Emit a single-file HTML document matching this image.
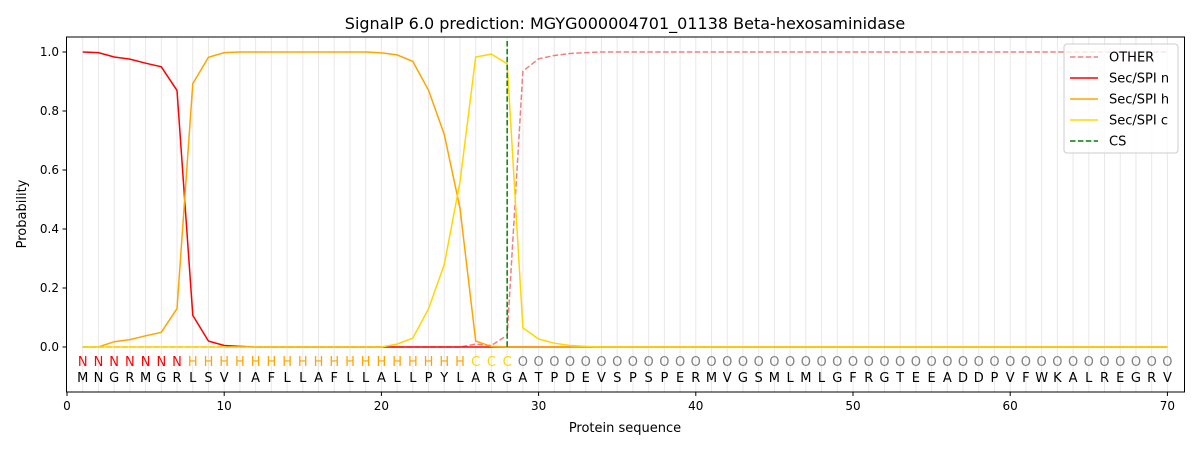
<!DOCTYPE html>
<html><head><meta charset="utf-8"><style>
body{margin:0;background:#fff;}
svg{display:block;font-family:"DejaVu Sans","Liberation Sans",sans-serif;}
</style></head><body>
<svg id="s" width="1200" height="450" xmlns="http://www.w3.org/2000/svg"></svg>
<script>
const s=document.getElementById('s');
const X=v=>67+v*15.72, Y=v=>347-v*295;
let h='';
h+='<rect x="0" y="0" width="1200" height="450" fill="#fff"/>';
for(let i=1;i<=70;i++)h+=`<line x1="${X(i)}" y1="37" x2="${X(i)}" y2="392" stroke="#e8e8e8" stroke-width="1"/>`;
const seq="MNGRMGRLSVIAFLLAFLLALLPYLARGATPDEVSPSPERMVGSMLMLGFRGTEEADDPVFWKALREGRV";
for(let i=1;i<=70;i++){
 let lab,col;
 if(i<=7){lab='N';col='red'}else if(i<=25){lab='H';col='orange'}else if(i<=28){lab='C';col='#ffd700'}else{lab='O';col='gray'}
 h+=`<text x="${X(i)}" y="366" font-size="13" text-anchor="middle" fill="${col}">${lab}</text>`;
 h+=`<text x="${X(i)}" y="382" font-size="13" text-anchor="middle" fill="#000">${seq[i-1]}</text>`;
}
function arr(m,len=70){const a=[];for(let i=1;i<=len;i++)a.push(m[i]!==undefined?m[i]:(m.d||0));return a;}
const n=arr({1:1,2:.998,3:.983,4:.976,5:.962,6:.95,7:.87,8:.107,9:.02,10:.005,11:.002});
const hh={1:0,2:0,3:.018,4:.025,5:.038,6:.05,7:.13,8:.893,9:.982,10:.998,20:.997,21:.99,22:.968,23:.87,24:.72,25:.47,26:.02,27:.002};
for(let i=11;i<=19;i++)hh[i]=1;
const H=arr(hh);
const C=arr({21:.01,22:.03,23:.13,24:.28,25:.56,26:.983,27:.993,28:.96,29:.065,30:.027,31:.013,32:.005,33:.002});
const oo={d:1};for(let i=1;i<=25;i++)oo[i]=0;Object.assign(oo,{26:.01,27:.005,28:.04,29:.935,30:.977,31:.988,32:.995,33:.998});
const O=arr(oo);
function pl(a,c,dash){return `<polyline fill="none" stroke="${c}" stroke-width="1.5" ${dash?'stroke-dasharray="5.5,2.4"':''} points="${a.map((v,i)=>X(i+1).toFixed(1)+','+Y(v).toFixed(1)).join(' ')}"/>`;}
h+=pl(O,'#f08080',1)+pl(n,'red')+pl(H,'orange')+pl(C,'#ffd700');
h+=`<line x1="${X(28)}" y1="41" x2="${X(28)}" y2="347" stroke="green" stroke-width="1.5" stroke-dasharray="5.5,2.4"/>`;
h+='<rect x="66.5" y="37" width="1118" height="355" fill="none" stroke="#000" stroke-width="1"/>';
for(let v=0;v<=70;v+=10){h+=`<line x1="${X(v)}" y1="392" x2="${X(v)}" y2="396" stroke="#000"/><text x="${X(v)}" y="410" font-size="12" text-anchor="middle">${v}</text>`;}
for(let k=0;k<=5;k++){const v=k*0.2;h+=`<line x1="62.5" y1="${Y(v)}" x2="66.5" y2="${Y(v)}" stroke="#000"/><text x="59" y="${Y(v)+4}" font-size="12" text-anchor="end">${v.toFixed(1)}</text>`;}
h+='<text x="625" y="432" font-size="13" text-anchor="middle">Protein sequence</text>';
h+='<text x="26" y="214" font-size="13" text-anchor="middle" transform="rotate(-90 26 214)">Probability</text>';
h+='<text x="625" y="29" font-size="16" text-anchor="middle">SignalP 6.0 prediction: MGYG000004701_01138 Beta-hexosaminidase</text>';
h+='<rect x="1064" y="44" width="114" height="109" rx="3" fill="#fff" fill-opacity="0.8" stroke="#ccc"/>';
const L=[['OTHER','#f08080',1],['Sec/SPI n','red'],['Sec/SPI h','orange'],['Sec/SPI c','#ffd700'],['CS','green',1]];
L.forEach((l,i)=>{const y=57+i*21;h+=`<line x1="1070" y1="${y}" x2="1098" y2="${y}" stroke="${l[1]}" stroke-width="1.5" ${l[2]?'stroke-dasharray="5.5,2.4"':''}/><text x="1109" y="${y+4.5}" font-size="13">${l[0]}</text>`;});
s.innerHTML=h;
</script>
</body></html>
